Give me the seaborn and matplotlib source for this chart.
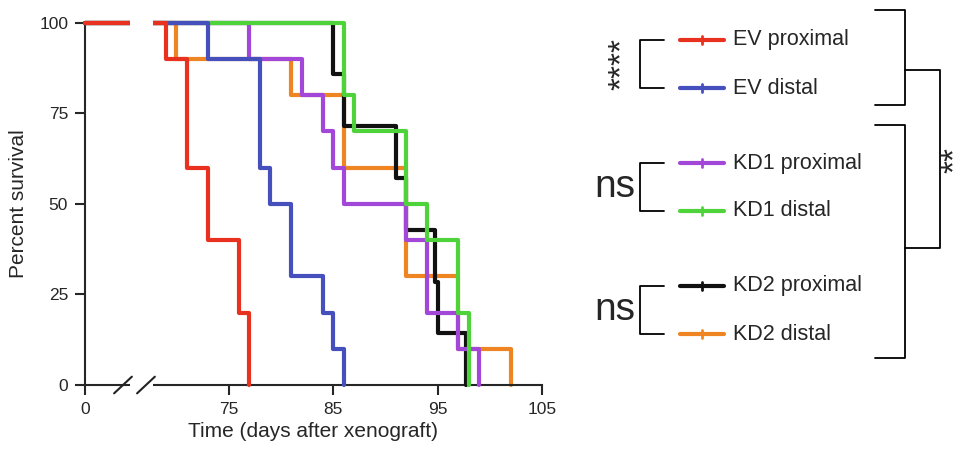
import numpy as np
import pandas as pd
import matplotlib
matplotlib.use("Agg")
import matplotlib.pyplot as plt
from matplotlib.lines import Line2D
import seaborn as sns

# death times (days after xenograft)
groups = ["EV proximal", "EV distal", "KD1 proximal", "KD1 distal", "KD2 proximal", "KD2 distal"]
colors = ["#e8321f", "#4650bd", "#a347d8", "#4fd33a", "#111111", "#ef8522"]
ev_prox = [69, 71, 71, 71, 73, 73, 76, 76, 77, 77]
ev_dist = [73, 78, 78, 78, 79, 81, 81, 84, 85, 86]
kd1_prox = [77, 82, 84, 85, 86, 92, 94, 94, 97, 99]
kd1_dist = [86, 86, 87, 92, 92, 94, 97, 97, 98, 98]
kd2_prox = [85, 86, 91, 92, 94.8, 95, 97.7]
kd2_dist = [70, 81, 86, 86, 92, 92, 92, 97, 97, 102]
times = [ev_prox, ev_dist, kd1_prox, kd1_dist, kd2_prox, kd2_dist]
xticks = [0, 75, 85, 95, 105]
yticks = [0, 25, 50, 75, 100]

ZERO_POS = 61.25  # where day 0 sits left of the axis break


def pos(t):
    t = np.asarray(t, dtype=float)
    return np.where(t >= 60, t, ZERO_POS + t)


rows = []
for g, ts in zip(groups, times):
    n = len(ts)
    rows.append((g, 0.0, 100.0))
    for k, t in enumerate(sorted(ts)):
        rows.append((g, t, 100.0 * (n - k - 1) / n))
df = pd.DataFrame(rows, columns=["group", "day", "surv"])
df["x"] = pos(df["day"])

sns.set_style("ticks")
plt.rcParams["font.family"] = ["Liberation Sans", "DejaVu Sans"]

fig = plt.figure(figsize=(9.75, 4.73), dpi=100)
ax = fig.add_axes([0.087, 0.186, 0.469, 0.766])
# draw order: orange, black, purple, green, blue, red on top
zorders = {"KD2 distal": 2, "KD2 proximal": 3, "KD1 proximal": 4, "KD1 distal": 5,
           "EV distal": 6, "EV proximal": 7}
for g, c in zip(groups, colors):
    sns.lineplot(data=df[df["group"] == g], x="x", y="surv", color=c,
                 estimator=None, sort=False, drawstyle="steps-post", lw=3,
                 ax=ax, zorder=zorders[g])
for ln in ax.lines:
    ln.set_clip_on(False)
ax.set_xlim(ZERO_POS, 105)
ax.set_ylim(0, 100)
ax.set_xticks(pos(xticks))
ax.set_xticklabels([str(v) for v in xticks], fontsize=12.5)
ax.set_yticks(yticks)
ax.set_yticklabels([str(v) for v in yticks], fontsize=12.5)
ax.tick_params(length=7, width=1.5, pad=5)
for s in ["left", "bottom"]:
    ax.spines[s].set_linewidth(1.5)
sns.despine(ax=ax)
ax.set_xlabel("Time (days after xenograft)", fontsize=15, labelpad=4)
ax.set_ylabel("Percent survival", fontsize=15, labelpad=8)

# axis break
ax.axvspan(65.6, 67.8, ymin=-0.02, ymax=1.02, color="white", zorder=10, clip_on=False, lw=0)
for bx in (64.9, 67.1):
    ax.plot([bx - 0.85, bx + 0.85], [-2.3, 2.3], color="#222222", lw=1.5, clip_on=False, zorder=11)

# legend
W, H = 975, 473
def fx(px): return px / W
def fy(py): return 1 - py / H

rows_y = [40, 88, 163, 211, 286, 334]
for g, c, yy in zip(groups, colors, rows_y):
    fig.add_artist(Line2D([fx(680), fx(724)], [fy(yy), fy(yy)], color=c, lw=3))
    fig.add_artist(Line2D([fx(702), fx(702)], [fy(yy - 4), fy(yy + 4)], color=c, lw=2))
    fig.text(fx(733), fy(yy), g, fontsize=15.5, va="center", ha="left")

def bracket(x0, x1, y0, y1, lw=1.3):
    fig.add_artist(Line2D([fx(x1), fx(x0), fx(x0), fx(x1)],
                          [fy(y0), fy(y0), fy(y1), fy(y1)], color="black", lw=lw))

def rbracket(x0, x1, y0, y1, lw=1.3):
    fig.add_artist(Line2D([fx(x0), fx(x1), fx(x1), fx(x0)],
                          [fy(y0), fy(y0), fy(y1), fy(y1)], color="black", lw=lw))

bracket(640, 664, 40, 88)
bracket(640, 664, 163, 211)
bracket(640, 664, 286, 334)
fig.text(fx(622), fy(64), "****", fontsize=24, rotation=90, ha="center", va="center")
fig.text(fx(615), fy(187), "ns", fontsize=28, ha="center", va="center")
fig.text(fx(615), fy(310), "ns", fontsize=28, ha="center", va="center")
rbracket(875, 905, 10, 105)
rbracket(875, 905, 125, 358)
rbracket(905, 940, 70, 248)
fig.text(fx(955), fy(160), "**", fontsize=24, rotation=90, ha="center", va="center")

fig.savefig("out.png", dpi=100)
